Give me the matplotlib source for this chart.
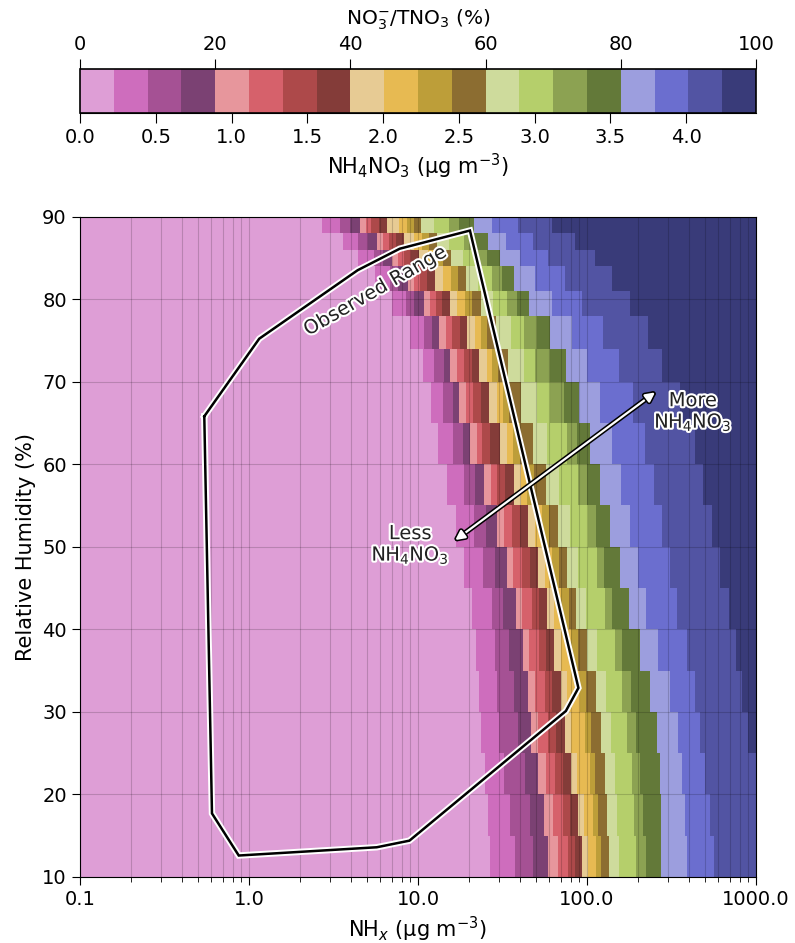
import numpy as np
import matplotlib
matplotlib.use("Agg")
import matplotlib.pyplot as plt
from matplotlib.colors import ListedColormap, Normalize
import matplotlib.patheffects as pe
from matplotlib.ticker import FuncFormatter, NullFormatter

# ---------------- data ----------------
# colour levels of NO3-/TNO3 (%) and matching NH4NO3 scale
no3_levels = [0, 5, 10, 15, 20, 25, 30, 35, 40, 45, 50,
              55, 60, 65, 70, 75, 80, 85, 90, 95, 100]
no3_ticks = [0, 20, 40, 60, 80, 100]
nh4no3_at_100pct = 4.46          # µg m-3 corresponding to 100 %
nh4no3_ticks = [0.0, 0.5, 1.0, 1.5, 2.0, 2.5, 3.0, 3.5, 4.0]

# RH rows (%) of the model grid
rh_row_edges = [10, 15, 20, 25, 30, 35, 40, 45, 50, 55, 60, 65, 70,
                74, 78, 81, 84, 86, 88, 90]

# NHx (µg m-3) at which each 5 % level (5 ... 95 %) is crossed, one list per RH row
nhx_level_edges = [
    [26.7, 37.5, 47.9, 58.8, 67.4, 77.2, 84.9, 93.4, 101, 113, 121, 135, 155, 195, 223, 274, 391, 565, 5000],
    [25.9, 35.0, 46.0, 55.7, 62.9, 72.1, 79.3, 88.5, 96.0, 109, 116, 131, 151, 190, 215, 274, 380, 535, 5000],
    [24.9, 32.3, 43.0, 51.3, 57.2, 64.7, 72.1, 80.4, 87.3, 104, 112, 128, 147, 185, 206, 270, 365, 499, 5000],
    [23.6, 30.2, 39.1, 46.6, 51.3, 58.8, 65.6, 74.1, 80.4, 97.3, 106, 121, 139, 173, 195, 260, 346, 466, 897],
    [23.0, 29.3, 37.0, 44.8, 49.2, 56.4, 62.1, 70.2, 76.1, 90.9, 98.7, 113, 130, 161, 182, 236, 310, 436, 827],
    [22.0, 28.6, 34.6, 41.8, 45.4, 52.0, 57.2, 63.8, 70.2, 80.4, 88.5, 100, 115, 147, 161, 206, 263, 391, 762],
    [20.9, 27.4, 31.8, 38.0, 41.2, 47.3, 52.0, 58.0, 63.8, 70.2, 78.2, 86.1, 98.7, 128, 141, 177, 223, 341, 693],
    [18.7, 24.2, 28.6, 33.6, 36.5, 41.2, 46.0, 51.3, 56.4, 62.1, 68.3, 76.1, 88.5, 115, 126, 157, 200, 310, 613],
    [16.8, 21.4, 25.3, 29.3, 32.3, 36.0, 40.1, 44.8, 49.2, 54.2, 59.6, 67.4, 79.3, 101, 113, 137, 180, 278, 549],
    [14.8, 18.7, 21.7, 24.6, 27.0, 29.3, 32.7, 37.0, 40.7, 44.2, 48.6, 57.2, 68.3, 88.5, 100, 119, 159, 249, 486],
    [13.1, 16.1, 18.5, 20.3, 22.3, 23.9, 26.7, 30.6, 33.6, 36.5, 40.1, 47.9, 58.0, 76.1, 87.3, 104, 141, 220, 436],
    [11.9, 14.1, 16.1, 17.5, 19.2, 21.2, 23.6, 26.3, 29.3, 31.8, 34.6, 40.7, 50.6, 60.4, 73.1, 89.7, 119, 187, 355],
    [10.7, 12.4, 14.3, 15.5, 17.0, 18.7, 20.9, 23.0, 25.6, 27.4, 29.7, 34.1, 42.4, 49.2, 60.4, 75.1, 100, 155, 278],
    [9.0, 10.9, 12.1, 13.3, 14.6, 15.9, 17.7, 19.5, 21.7, 23.6, 25.6, 28.9, 35.5, 42.4, 50.6, 60.4, 81.5, 124, 230],
    [7.0, 8.5, 9.5, 10.9, 11.8, 12.8, 13.9, 15.5, 17.0, 19.0, 20.9, 23.6, 27.8, 33.6, 38.5, 45.4, 62.1, 93.4, 180],
    [5.57, 6.83, 7.61, 8.73, 9.47, 10.3, 11.3, 12.6, 14.1, 15.7, 17.3, 19.2, 22.6, 27.4, 31.4, 37.0, 49.2, 74.1, 141],
    [4.42, 5.49, 6.21, 7.02, 7.61, 8.27, 9.09, 10.1, 11.5, 12.8, 14.1, 15.7, 18.5, 22.3, 25.6, 30.6, 40.1, 58.8, 112],
    [3.60, 4.42, 5.06, 5.72, 6.21, 6.74, 7.41, 8.27, 9.47, 10.6, 11.6, 13.0, 15.3, 18.7, 21.4, 25.9, 33.2, 47.9, 84.9],
    [2.70, 3.46, 3.96, 4.54, 4.92, 5.27, 5.88, 6.56, 7.72, 8.61, 9.47, 10.4, 12.4, 15.3, 17.5, 21.4, 27.4, 39.1, 62.1],
]

# observed range polygon
obs_nhx = [0.544, 0.604, 0.87, 5.7, 8.9, 75.0, 89.0, 20.3, 7.8, 4.4, 1.15, 0.544]
obs_rh = [65.8, 17.7, 12.6, 13.6, 14.4, 30.1, 32.9, 88.3, 86.1, 83.5, 75.2, 65.8]

# annotation arrow (less -> more)
arrow_nhx = [16.6, 253.0]
arrow_rh = [50.8, 68.7]

x_ticks = [0.1, 1, 10, 100, 1000]
x_ticklabels = ["0.1", "1.0", "10.0", "100.0", "1000.0"]
y_ticks = [10, 20, 30, 40, 50, 60, 70, 80, 90]

# ---------------- figure ----------------
FS_TICK = 14
FS_LAB = 15
plt.rcParams["font.family"] = ["DejaVu Sans"]
plt.rcParams["font.size"] = FS_TICK

fig = plt.figure(figsize=(7.95, 9.43), dpi=100)
ax = fig.add_axes([0.1006, 0.0700, 0.8503, 0.7004])
cax = fig.add_axes([0.1006, 0.8802, 0.8503, 0.0467])

cmap = ListedColormap(list(plt.get_cmap("tab20b").colors)[::-1])
norm = Normalize(vmin=no3_levels[0], vmax=no3_levels[-1])
bin_mid = np.array([[(a + b) / 2 for a, b in zip(no3_levels[:-1], no3_levels[1:])]])

x_lo, x_hi = x_ticks[0], x_ticks[-1]
for i in range(len(rh_row_edges) - 1):
    xe = np.concatenate([[x_lo], nhx_level_edges[i], [x_hi]])
    xe = np.clip(xe, x_lo, x_hi)
    ax.pcolormesh(xe, rh_row_edges[i:i + 2], bin_mid, cmap=cmap, norm=norm,
                  shading="flat", zorder=1)

ax.set_xscale("log")
ax.set_xlim(x_lo, x_hi)
ax.set_ylim(rh_row_edges[0], rh_row_edges[-1])
ax.set_xticks(x_ticks)
ax.set_xticklabels(x_ticklabels)
ax.xaxis.set_minor_formatter(NullFormatter())
ax.set_yticks(y_ticks)
ax.tick_params(axis="both", which="major", labelsize=FS_TICK, length=6)
ax.tick_params(axis="x", which="minor", length=3.5)
ax.set_axisbelow(False)
ax.grid(True, which="both", axis="x", color="k", alpha=0.17, lw=0.8)
ax.grid(True, which="major", axis="y", color="k", alpha=0.17, lw=0.8)
ax.set_xlabel("NH$_x$ (µg m$^{-3}$)", fontsize=FS_LAB)
ax.set_ylabel("Relative Humidity (%)", fontsize=FS_LAB)

# observed range
ax.plot(obs_nhx, obs_rh, color="k", lw=1.8, zorder=5, solid_joinstyle="miter",
        path_effects=[pe.Stroke(linewidth=4.6, foreground="white"), pe.Normal()])
halo = [pe.withStroke(linewidth=3, foreground="white")]
ax.text(5.6, 81.0, "Observed Range", rotation=30, rotation_mode="anchor",
        ha="center", va="center", fontsize=FS_TICK, color="#222222", zorder=6,
        path_effects=halo)

# arrow
ax.annotate("", xy=(arrow_nhx[1], arrow_rh[1]), xytext=(arrow_nhx[0], arrow_rh[0]),
            arrowprops=dict(arrowstyle="<|-|>", color="white", lw=1.6,
                            mutation_scale=14, shrinkA=0, shrinkB=0,
                            path_effects=[pe.Stroke(linewidth=3.8, foreground="black"),
                                          pe.Normal()]),
            zorder=6)
ax.text(9.0, 50.2, "Less\nNH$_4$NO$_3$", ha="center", va="center", fontsize=FS_TICK,
        color="#222222", zorder=7, path_effects=halo, linespacing=1.1)
ax.text(424, 66.3, "More\nNH$_4$NO$_3$", ha="center", va="center", fontsize=FS_TICK,
        color="#222222", zorder=7, path_effects=halo, linespacing=1.1)

# colorbar
sm = plt.cm.ScalarMappable(norm=norm, cmap=cmap)
cb = fig.colorbar(sm, cax=cax, orientation="horizontal", ticks=no3_ticks)
cb.outline.set_linewidth(1.2)
cax.xaxis.set_ticks_position("top")
cax.xaxis.set_label_position("top")
cax.tick_params(labelsize=FS_TICK, length=7)
cb.set_label("NO$_3^{-}$/TNO$_3$ (%)", fontsize=14.5, labelpad=8)
cax.xaxis.set_major_formatter(FuncFormatter(lambda v, p: f"{v:.0f}"))

sec = cax.secondary_xaxis(
    "bottom",
    functions=(lambda p: np.asarray(p) * nh4no3_at_100pct / 100.0,
               lambda m: np.asarray(m) * 100.0 / nh4no3_at_100pct))
sec.set_xticks(nh4no3_ticks)
sec.xaxis.set_major_formatter(FuncFormatter(lambda v, p: f"{v:.1f}"))
sec.tick_params(labelsize=FS_TICK, length=7)
sec.set_xlabel("NH$_4$NO$_3$ (µg m$^{-3}$)", fontsize=FS_LAB)

fig.savefig("out.png", dpi=100)
